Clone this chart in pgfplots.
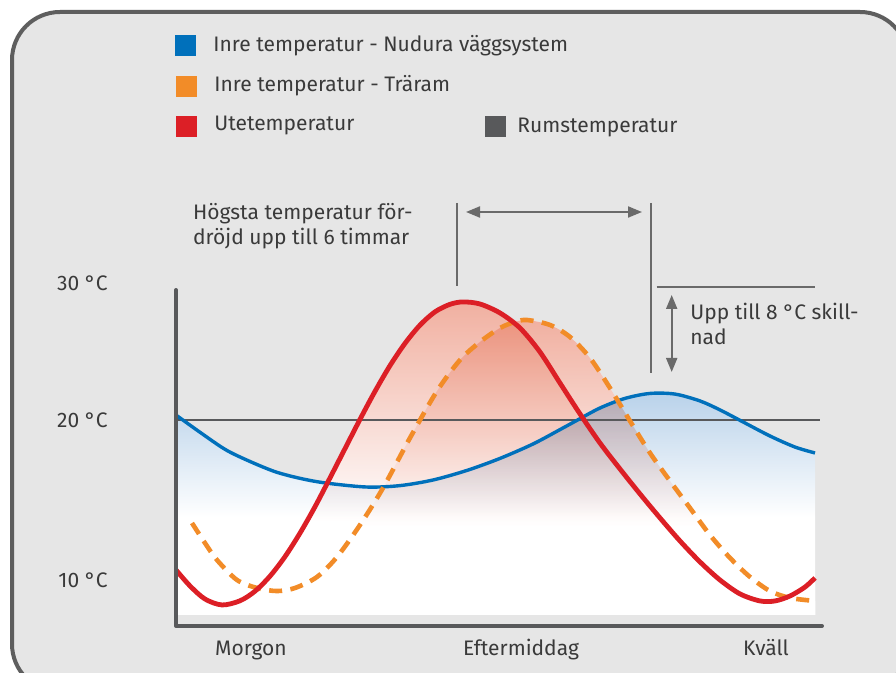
\documentclass[border=0pt]{standalone}
\usepackage{pgfplots}
\usepackage{pgfplotstable}
\pgfplotsset{compat=1.18}
\usetikzlibrary{arrows.meta}
\usepackage{fontspec}
\setmainfont{Fira Sans}
\definecolor{bg}{HTML}{E6E6E6}
\definecolor{framec}{HTML}{5E5E5E}
\definecolor{txt}{HTML}{3A3A3A}
\definecolor{nblue}{HTML}{0070BB}
\definecolor{nred}{HTML}{DC1F26}
\definecolor{norange}{HTML}{F28C28}
\definecolor{ngray}{HTML}{58595B}
\definecolor{salmon}{HTML}{E87C62}
\definecolor{bluefill}{HTML}{B9D2EA}
\definecolor{annot}{HTML}{6A6A6A}
\pgfdeclareverticalshading{salmonfade}{100bp}{color(0bp)=(white); color(40bp)=(white); color(75bp)=(salmon); color(100bp)=(salmon)}
\pgfdeclareverticalshading{bluefade}{100bp}{color(0bp)=(white); color(47bp)=(white); color(75bp)=(bluefill); color(100bp)=(bluefill)}

% Inre temperatur - Nudura väggsystem
\pgfplotstableread{
x y
0 20.31
2.5 19.19
5 18.13
7.5 17.38
10 16.75
12.5 16.34
15 16.06
19.1 15.81
22.4 15.90
25.7 16.25
29.1 16.85
32.4 17.60
35.7 18.50
38.4 19.40
40.1 19.98
42.4 20.75
44.9 21.35
47.4 21.66
49.9 21.62
52.4 21.19
54.4 20.63
56.7 19.88
59.4 19.0
61.9 18.31
63.9 17.94
}\bluedata

% Utetemperatur
\pgfplotstableread{
x y
0 10.63
1.4 9.63
2.9 8.81
4.6 8.44
6.4 8.70
7.9 9.30
9.4 10.24
10.9 11.46
12.4 12.93
13.9 14.58
15.4 16.38
16.9 18.21
18.4 20.04
19.9 21.79
21.4 23.40
22.9 24.79
24.4 25.93
25.9 26.76
27.4 27.23
28.7 27.38
30.4 27.25
32.4 26.69
34.4 25.75
36.4 24.25
38.4 22.31
40.4 20.38
42.4 18.56
44.4 16.94
46.4 15.38
48.4 13.88
50.4 12.44
52.4 11.13
54.4 10.0
56.4 9.13
58.4 8.69
59.9 8.69
61.4 9.0
62.9 9.56
63.9 10.13
}\reddata

% Inre temperatur - Träram
\pgfplotstableread{
x y
1.6 13.56
2.9 12.31
4.1 11.25
6.1 10.0
8.1 9.5
10.1 9.31
11.9 9.5
14.1 10.19
16.1 11.44
18.4 13.44
20.7 15.75
23.4 18.88
26.1 21.81
28.4 23.75
30.4 24.88
32.4 25.75
33.9 26.13
35.1 26.25
37.4 25.94
39.4 25.19
41.4 23.88
43.4 22.0
45.4 19.94
47.4 17.94
49.4 16.19
51.4 14.5
53.4 12.81
55.4 11.38
57.4 10.19
59.4 9.31
61.4 8.88
63.9 8.69
}\orangedata

\begin{document}
\begin{tikzpicture}[font=\fontsize{10.5}{12.6}\selectfont, text=txt]
\useasboundingbox (0,0) rectangle (448pt,-336.5pt);
\begin{scope}[x=0.5pt,y=-0.5pt]
  \fill[white] (0,0) rectangle (896,673);
  \draw[framec, line width=2pt, fill=bg, rounded corners=24pt] (12,12) rectangle (908,692);
  % legend
  \fill[nblue] (175,35) rectangle (196,56);
  \node[anchor=base west, inner sep=0pt] at (213,52) {Inre temperatur - Nudura väggsystem};
  \fill[norange] (176,76) rectangle (197,97);
  \node[anchor=base west, inner sep=0pt] at (214,92) {Inre temperatur - Träram};
  \fill[nred] (176,116) rectangle (197,137);
  \node[anchor=base west, inner sep=0pt] at (214,131) {Utetemperatur};
  \fill[ngray] (485,116) rectangle (506,137);
  \node[anchor=base west, inner sep=0pt] at (517,133) {Rumstemperatur};
\end{scope}

\begin{axis}[
  at={(88pt,-313pt)}, anchor=south west,
  scale only axis, width=323pt, height=171.8pt,
  xmin=0, xmax=64.6, ymin=7.125, ymax=28.6,
  clip=false,
  axis line style={draw=none},
  major tick length=0pt,
  xtick={7.5,34.5,59}, xticklabels={Morgon,Eftermiddag,Kväll},
  ytick={10,20,28.5625}, yticklabels={10 °C,20 °C,30 °C},
  tick label style={inner sep=0pt, font=\fontsize{10.5}{12.6}\selectfont, text=txt},
  xticklabel style={anchor=base, yshift=-14.75pt},
  yticklabel style={anchor=base east, xshift=-34pt, yshift=-3.75pt},
]
% white ground under the curves
\addplot[draw=none, fill=white, smooth] table[x=x,y=y] {\bluedata} -- (axis cs:63.9,7.8125) -- (axis cs:0,7.8125) -- cycle;
\addplot[draw=none, fill=white, smooth] table[x=x,y=y] {\reddata} -- (axis cs:63.9,7.8125) -- (axis cs:0,7.8125) -- cycle;
\addplot[draw=none, fill=white, smooth] table[x=x,y=y] {\orangedata} -- (axis cs:63.9,7.8125) -- (axis cs:1.6,7.8125) -- cycle;
% salmon gradients under the outdoor and timber-frame curves
\addplot[draw=none, shade, shading=salmonfade, fill opacity=0.6, smooth] table[x=x,y=y] {\reddata} -- (axis cs:63.9,7.8125) -- (axis cs:0,7.8125) -- cycle;
\addplot[draw=none, shade, shading=salmonfade, fill opacity=0.6, smooth] table[x=x,y=y] {\orangedata} -- (axis cs:63.9,7.8125) -- (axis cs:1.6,7.8125) -- cycle;
% blue gradient under the Nudura curve (multiplied)
\addplot[draw=none, shade, shading=bluefade, blend mode=multiply, smooth] table[x=x,y=y] {\bluedata} -- (axis cs:63.9,7.8125) -- (axis cs:0,7.8125) -- cycle;
% Rumstemperatur
\addplot[ngray, line width=0.9pt] coordinates {(0,20) (64.4,20)};
% curves
\addplot[nblue, line width=1.7pt, smooth] table[x=x,y=y] {\bluedata};
\addplot[norange, line width=2.3pt, smooth, dash pattern=on 6.5pt off 4.2pt] table[x=x,y=y] {\orangedata};
\addplot[nred, line width=2.4pt, smooth] table[x=x,y=y] {\reddata};
% axis lines
\draw[ngray, line width=2pt, line cap=round, line join=round] (axis cs:0,28.125) -- (axis cs:0,7.125) -- (axis cs:64.6,7.125);
\end{axis}

\begin{scope}[x=0.5pt,y=-0.5pt]
  \draw[annot, line width=1pt] (456.7,203) -- (456.7,286);
  \draw[annot, line width=1pt] (651,203) -- (651,373);
  \draw[annot, line width=1pt, {Triangle[length=7pt,width=5.5pt]}-{Triangle[length=7pt,width=5.5pt]}] (466,212) -- (642,212);
  \draw[annot, line width=1pt] (656.7,286.7) -- (815,286.7);
  \draw[annot, line width=1pt, {Triangle[length=7pt,width=5.5pt]}-{Triangle[length=7pt,width=5.5pt]}] (671.7,295) -- (671.7,372);
  \node[anchor=base west, inner sep=0pt] at (192.7,219.3) {Högsta temperatur för-};
  \node[anchor=base west, inner sep=0pt] at (192.7,245) {dröjd upp till 6 timmar};
  \node[anchor=base west, inner sep=0pt] at (690,320) {Upp till 8 °C skill-};
  \node[anchor=base west, inner sep=0pt] at (690,344.5) {nad};
\end{scope}
\end{tikzpicture}
\end{document}
